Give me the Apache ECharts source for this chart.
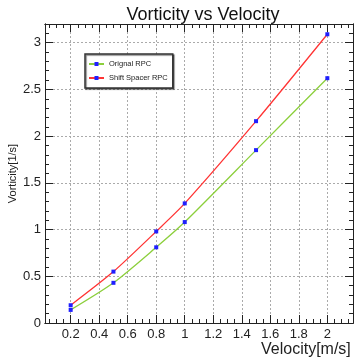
<!DOCTYPE html>
<html><head><meta charset="utf-8">
<script src="https://cdn.jsdelivr.net/npm/echarts@6/dist/echarts.min.js"></script>
<style>html,body{margin:0;padding:0;background:#fff}#c{width:358px;height:361px}</style>
</head><body><div id="c"></div>
<script>
const velocity = [0.2, 0.5, 0.8, 1.0, 1.5, 2.0];
const originalRPC = [0.14, 0.43, 0.81, 1.08, 1.85, 2.62];
const shiftSpacerRPC = [0.19, 0.55, 0.98, 1.28, 2.16, 3.09];
const xMajor = [0.2, 0.4, 0.6, 0.8, 1.0, 1.2, 1.4, 1.6, 1.8, 2.0];
const xMinor = [0.05, 0.1, 0.15, 0.25, 0.3, 0.35, 0.45, 0.5, 0.55, 0.65, 0.7, 0.75, 0.85, 0.9, 0.95, 1.05, 1.1, 1.15, 1.25, 1.3, 1.35, 1.45, 1.5, 1.55, 1.65, 1.7, 1.75, 1.85, 1.9, 1.95, 2.05, 2.1, 2.15];
const yMajor = [0, 0.5, 1.0, 1.5, 2.0, 2.5, 3.0];
const yMinor = [0.1, 0.2, 0.3, 0.4, 0.6, 0.7, 0.8, 0.9, 1.1, 1.2, 1.3, 1.4, 1.6, 1.7, 1.8, 1.9, 2.1, 2.2, 2.3, 2.4, 2.6, 2.7, 2.8, 2.9, 3.1];
const X_MIN = 0.02, X_MAX = 2.18, Y_MIN = 0, Y_MAX = 3.2;

const frame = {color: '#222', width: 1};
const grid = {type: [2, 2], color: '#aaa', width: 1};
const font = 'Liberation Sans, Arial, sans-serif';

function xAx(pos, ticks, len, labels, extra) {
  return Object.assign({
    type: 'value', min: X_MIN, max: X_MAX, position: pos,
    axisLine: {show: true, onZero: false, lineStyle: frame},
    axisTick: {show: true, inside: true, length: len, customValues: ticks, lineStyle: frame},
    axisLabel: labels ? {show: true, customValues: xMajor, color: '#222', fontSize: 13, fontFamily: font, margin: 5} : {show: false},
    splitLine: {show: false}
  }, extra || {});
}
function yAx(pos, ticks, len, labels, extra) {
  return Object.assign({
    type: 'value', min: Y_MIN, max: Y_MAX, position: pos,
    axisLine: {show: true, onZero: false, lineStyle: frame},
    axisTick: {show: true, inside: true, length: len, customValues: ticks, lineStyle: frame},
    axisLabel: labels ? {show: true, customValues: yMajor, color: '#222', fontSize: 13, fontFamily: font, margin: 4} : {show: false},
    splitLine: {show: false}
  }, extra || {});
}

const chart = echarts.init(document.getElementById('c'), null, {renderer: 'canvas'});
chart.setOption({
  animation: false,
  backgroundColor: '#fff',
  title: {text: 'Vorticity vs Velocity', left: 198, top: 1, textAlign: 'center',
    textStyle: {fontSize: 18, fontWeight: 'normal', color: '#111', fontFamily: font}},
  grid: {left: 45, right: 5, top: 24, bottom: 38, containLabel: false, outerBoundsMode: 'none'},
  legend: {
    left: 85, top: 54, orient: 'vertical', itemGap: 6, itemWidth: 15, itemHeight: 5,
    padding: [6, 5, 6, 3], backgroundColor: '#fff', borderColor: '#333', borderWidth: 1.5,
    shadowColor: 'rgba(0,0,0,0.5)', shadowOffsetX: 1, shadowOffsetY: 1, shadowBlur: 1,
    textStyle: {fontSize: 7.5, color: '#222', fontFamily: font},
    data: ['Orignal RPC', 'Shift Spacer RPC']
  },
  xAxis: [
    xAx('bottom', xMajor, 8, true, {
      splitLine: {show: true, customValues: xMajor, lineStyle: grid},
      name: 'Velocity[m/s]', nameLocation: 'end', nameGap: -92,
      nameTextStyle: {verticalAlign: 'top', padding: [19, 0, 0, 0], fontSize: 16, color: '#222', fontFamily: font}
    }),
    xAx('bottom', xMinor, 4, false),
    xAx('top', xMajor, 8, false),
    xAx('top', xMinor, 4, false)
  ],
  yAxis: [
    yAx('left', yMajor, 8, true, {
      splitLine: {show: true, customValues: yMajor, lineStyle: grid},
      name: 'Vorticity[1/s]', nameLocation: 'middle', nameGap: 27, nameRotate: 90, nameMoveOverlap: false,
      nameTextStyle: {fontSize: 11, color: '#222', fontFamily: font}
    }),
    yAx('left', yMinor, 4, false),
    yAx('right', yMajor, 8, false),
    yAx('right', yMinor, 4, false)
  ],
  series: [
    {name: 'Orignal RPC', type: 'line', smooth: 0.25,
     data: velocity.map((v, i) => [v, originalRPC[i]]),
     symbol: 'rect', symbolSize: 4, showSymbol: true,
     lineStyle: {color: '#8ccf3c', width: 1.3},
     itemStyle: {color: '#1f1fff'}},
    {name: 'Shift Spacer RPC', type: 'line', smooth: 0.25,
     data: velocity.map((v, i) => [v, shiftSpacerRPC[i]]),
     symbol: 'rect', symbolSize: 4, showSymbol: true,
     lineStyle: {color: '#ff3434', width: 1.3},
     itemStyle: {color: '#1f1fff'}}
  ]
});
</script></body></html>
